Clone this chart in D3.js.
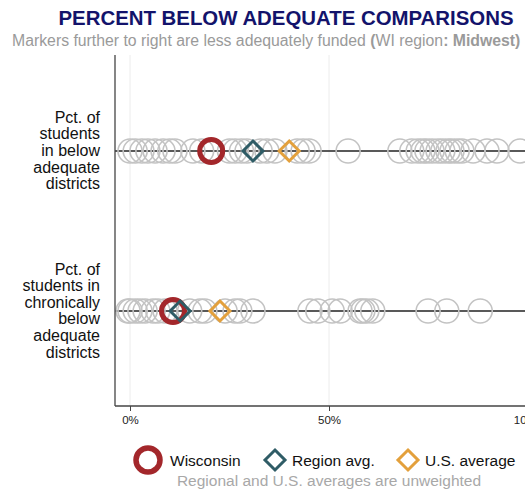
<!DOCTYPE html>
<html>
<head>
<meta charset="utf-8">
<script src="https://cdn.jsdelivr.net/npm/d3@7"></script>
<style>
  body { margin: 0; background: #fff; }
  svg { font-family: "Liberation Sans", Arial, sans-serif; display: block; }
</style>
</head>
<body>
<script>
// measures (rows of the chart)
var measures = ["below", "chronic"];
var measureLabels = [
    ["Pct. of", "students", "in below", "adequate", "districts"],
    ["Pct. of", "students in", "chronically", "below", "adequate", "districts"]
];

// all states, percent of students (gray rings)
var statesBelow = [0, 1.3, 3, 4.5, 6.3, 8.3, 10, 11.3, 15.8, 18, 25, 26.4, 28, 29.4, 32.7, 34.4,
    36.4, 42, 43.5, 45, 54.8, 67.8, 70.8, 72.4, 73.6, 74.6, 75.9, 77.4, 78.6, 79.9,
    80.9, 82.2, 83.4, 86.2, 89.7, 92.2, 98];
var statesChronic = [-0.5, 0, 1.3, 2.5, 3.8, 5.8, 7, 8.8, 15, 17.6, 18.8, 23.9, 26.4, 27.6, 30.9,
    45.2, 47.2, 50.8, 52.8, 57.8, 58.5, 59.5, 61, 74.9, 79.6, 88];

// highlighted markers
var wisconsin = [20.4, 10.8];
var regionAvg = [30.9, 12.6];
var usAvg = [40, 22.6];

var xTicks = [0, 50, 100];

window.onload = function(){
    var w = 525, h = 493;
    var svg = d3.select("body").append("svg")
        .attr("width", w)
        .attr("height", h);

    var left = 115, right = 525, top = 55, bottom = 406;

    var x = d3.scaleLinear().domain([0, 100]).range([130, 528]);
    var y = d3.scalePoint().domain(measures).range([151, 311]);

    // title
    svg.append("text")
        .attr("x", 286).attr("y", 25)
        .attr("text-anchor", "middle")
        .style("font-size", "20.4px").style("font-weight", "bold")
        .style("fill", "#13136b")
        .text("PERCENT BELOW ADEQUATE COMPARISONS");

    var sub = svg.append("text")
        .attr("x", 12).attr("y", 46)
        .style("font-size", "15.8px").style("fill", "#9a9a9a");
    sub.append("tspan").text("Markers further to right are less adequately funded ");
    sub.append("tspan").style("font-weight", "bold").text("(");
    sub.append("tspan").text("WI region");
    sub.append("tspan").style("font-weight", "bold").text(": Midwest)");

    var plot = svg.append("g");

    // gridlines
    plot.selectAll(".grid").data(xTicks).enter().append("line")
        .attr("class", "grid")
        .attr("x1", function(d){ return x(d); })
        .attr("x2", function(d){ return x(d); })
        .attr("y1", top).attr("y2", bottom)
        .style("stroke", "#ececec").style("stroke-width", 1);

    // row lines
    plot.selectAll(".row").data(measures).enter().append("line")
        .attr("class", "row")
        .attr("x1", left).attr("x2", right)
        .attr("y1", function(d){ return y(d); })
        .attr("y2", function(d){ return y(d); })
        .style("stroke", "#222").style("stroke-width", 1.5);

    // gray rings
    var rings = [];
    statesBelow.forEach(function(v){ rings.push({m: "below", v: v}); });
    statesChronic.forEach(function(v){ rings.push({m: "chronic", v: v}); });
    plot.selectAll(".ring").data(rings).enter().append("circle")
        .attr("class", "ring")
        .attr("cx", function(d){ return x(d.v); })
        .attr("cy", function(d){ return y(d.m); })
        .attr("r", 12)
        .style("fill", "none")
        .style("stroke", "#c3c3c3").style("stroke-width", 1.6);

    function diamondPath(cx, cy, s){
        return "M" + cx + "," + (cy - s) + "L" + (cx + s) + "," + cy +
            "L" + cx + "," + (cy + s) + "L" + (cx - s) + "," + cy + "Z";
    }

    // wisconsin
    plot.selectAll(".wi").data(measures).enter().append("circle")
        .attr("class", "wi")
        .attr("cx", function(d, i){ return x(wisconsin[i]); })
        .attr("cy", function(d){ return y(d); })
        .attr("r", 11.5)
        .style("fill", "none")
        .style("stroke", "#a3272b").style("stroke-width", 5);

    plot.selectAll(".reg").data(measures).enter().append("path")
        .attr("class", "reg")
        .attr("d", function(d, i){ return diamondPath(x(regionAvg[i]), y(d), 10); })
        .style("fill", "none")
        .style("stroke", "#2f5c66").style("stroke-width", 3);

    plot.selectAll(".us").data(measures).enter().append("path")
        .attr("class", "us")
        .attr("d", function(d, i){ return diamondPath(x(usAvg[i]), y(d), 10); })
        .style("fill", "none")
        .style("stroke", "#e3a03c").style("stroke-width", 3);

    // axes lines
    svg.append("line").attr("x1", left).attr("x2", left).attr("y1", top).attr("y2", bottom)
        .style("stroke", "#444").style("stroke-width", 1.3);
    svg.append("line").attr("x1", left).attr("x2", right).attr("y1", bottom).attr("y2", bottom)
        .style("stroke", "#444").style("stroke-width", 1.3);

    var xAxis = svg.append("g")
        .attr("transform", "translate(0," + bottom + ")")
        .call(d3.axisBottom(x).tickValues(xTicks).tickSize(5).tickPadding(5)
            .tickFormat(function(d){ return d + "%"; }));
    xAxis.select(".domain").remove();
    xAxis.selectAll("line").style("stroke", "#444");
    xAxis.selectAll("text").style("font-size", "11.5px").style("fill", "#222")
        .style("font-family", "Liberation Sans, Arial, sans-serif");

    // row labels
    measureLabels.forEach(function(lines, i){
        var lh = 16.6;
        var y0 = y(measures[i]) - (lines.length - 1) * lh / 2;
        var t = svg.append("text")
            .attr("text-anchor", "end")
            .style("font-size", "16px").style("fill", "#111");
        lines.forEach(function(s, j){
            t.append("tspan").attr("x", 100).attr("y", y0 + j * lh + 5).text(s);
        });
    });

    // legend
    var ly = 460;
    svg.append("circle").attr("cx", 148).attr("cy", ly).attr("r", 12)
        .style("fill", "none").style("stroke", "#a3272b").style("stroke-width", 5.5);
    svg.append("path").attr("d", diamondPath(275, ly, 10))
        .style("fill", "none").style("stroke", "#2f5c66").style("stroke-width", 3);
    svg.append("path").attr("d", diamondPath(408, ly, 10))
        .style("fill", "none").style("stroke", "#e3a03c").style("stroke-width", 3);
    var legText = [["Wisconsin", 170], ["Region avg.", 292], ["U.S. average", 425]];
    svg.selectAll(".legtext").data(legText).enter().append("text")
        .attr("class", "legtext")
        .attr("x", function(d){ return d[1]; })
        .attr("y", ly + 5.5)
        .style("font-size", "15.5px").style("fill", "#111")
        .text(function(d){ return d[0]; });

    svg.append("text")
        .attr("x", 329).attr("y", 486)
        .attr("text-anchor", "middle")
        .style("font-size", "15.5px").style("fill", "#a8a8a8")
        .text("Regional and U.S. averages are unweighted");
};
</script>
</body>
</html>
